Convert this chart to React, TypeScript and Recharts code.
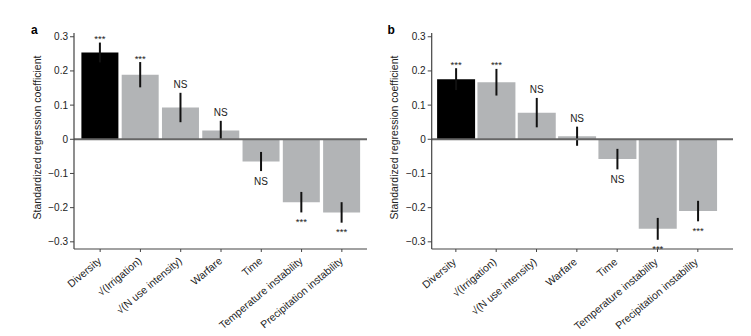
import { Bar, BarChart, Cell, ErrorBar, LabelList, ReferenceLine, XAxis, YAxis } from "recharts";

const FONT = '"Liberation Sans", Arial, sans-serif';

const categories = [
  "Diversity",
  "√(Irrigation)",
  "√(N use intensity)",
  "Warfare",
  "Time",
  "Temperature instability",
  "Precipitation instability",
];

const coefA = [0.254, 0.189, 0.093, 0.026, -0.065, -0.184, -0.214];
const errA = [0.029, 0.037, 0.043, 0.028, 0.028, 0.03, 0.03];
const sigA = ["***", "***", "NS", "NS", "NS", "***", "***"];

const coefB = [0.176, 0.167, 0.078, 0.009, -0.058, -0.262, -0.21];
const errB = [0.032, 0.039, 0.043, 0.028, 0.03, 0.032, 0.03];
const sigB = ["***", "***", "NS", "NS", "NS", "***", "***"];

const yTicks = [-0.3, -0.2, -0.1, 0, 0.1, 0.2, 0.3];

type Row = { name: string; coef: number; err: number; sig: string };

const build = (coef: number[], err: number[], sig: string[]): Row[] =>
  categories.map((name, i) => ({ name, coef: coef[i], err: err[i], sig: sig[i] }));

const fmtTick = (v: number) => (v === 0 ? "0" : v < 0 ? `\u2212${Math.abs(v).toFixed(1)}` : v.toFixed(1));

// significance marks sit just past the end of each error bar
const sigLabel = (rows: Row[]) => (p: any) => {
  const row = rows[p.index];
  if (!row) return null;
  const h = Number(p.height);
  const y = Number(p.y);
  const top = Math.min(y, y + h);
  const bot = Math.max(y, y + h);
  const ppu = (bot - top) / Math.abs(row.coef);
  const ns = row.sig === "NS";
  let ty: number;
  if (row.coef >= 0) {
    const end = bot - (row.coef + row.err) * ppu;
    ty = end - (ns ? 4.5 : 0.5);
  } else {
    const end = top + (Math.abs(row.coef) + row.err) * ppu;
    ty = end + (ns ? 13.5 : 12.5);
  }
  return (
    <text
      x={Number(p.x) + Number(p.width) / 2}
      y={ty}
      textAnchor="middle"
      fontSize={ns ? 10 : 9.5}
      fontFamily={FONT}
      fill="#222"
    >
      {row.sig}
    </text>
  );
};

const xTick = (dx: number, dy: number) => (p: any) => (
  <text
    transform={`translate(${p.x + dx},${p.y + dy}) rotate(-40)`}
    textAnchor="end"
    fontSize={10.5}
    fontFamily={FONT}
    fill="#222"
  >
    {p.payload.value}
  </text>
);

type PanelProps = {
  rows: Row[];
  left: number;
  width: number;
  margin: { top: number; right: number; bottom: number; left: number };
  padding: { left: number; right: number };
  tickDx: number;
  tickDy: number;
};

function Panel({ rows, left, width, margin, padding, tickDx, tickDy }: PanelProps) {
  return (
    <div style={{ position: "absolute", left, top: 0 }}>
      <BarChart width={width} height={336} data={rows} margin={margin} barCategoryGap={1.4}>
        <XAxis
          dataKey="name"
          height={87}
          padding={padding}
          interval={0}
          tickSize={3}
          axisLine={{ stroke: "#444", strokeWidth: 1.2 }}
          tickLine={{ stroke: "#444" }}
          tick={xTick(tickDx, tickDy)}
        />
        <YAxis
          width={40}
          domain={[-0.321, 0.311]}
          ticks={yTicks}
          tickSize={4}
          tickFormatter={fmtTick}
          axisLine={{ stroke: "#444", strokeWidth: 1.2 }}
          tickLine={{ stroke: "#444" }}
          tick={{ fontSize: 10, fill: "#222", fontFamily: FONT }}
          allowDataOverflow
        />
        <Bar dataKey="coef" isAnimationActive={false}>
          {rows.map((r, i) => (
            <Cell key={r.name} fill={i === 0 ? "#000000" : "#b2b4b6"} />
          ))}
          <ErrorBar dataKey="err" width={0} stroke="#111" strokeWidth={2} direction="y" isAnimationActive={false} />
          <LabelList dataKey="sig" content={sigLabel(rows)} />
        </Bar>
        <ReferenceLine y={0} stroke="#666" strokeWidth={2} />
      </BarChart>
    </div>
  );
}

export default function App() {
  const rowsA = build(coefA, errA, sigA);
  const rowsB = build(coefB, errB, sigB);
  const yLabel = "Standardized regression coefficient";
  return (
    <div
      style={{
        position: "absolute",
        left: 0,
        top: 0,
        width: 751,
        height: 336,
        background: "#fff",
        fontFamily: FONT,
      }}
    >
      <Panel
        rows={rowsA}
        left={0}
        width={370}
        margin={{ top: 33, right: 3, bottom: 0, left: 34 }}
        padding={{ left: 6, right: 5 }}
        tickDx={2}
        tickDy={8}
      />
      <Panel
        rows={rowsB}
        left={370}
        width={381}
        margin={{ top: 33, right: 18, bottom: 0, left: 21.7 }}
        padding={{ left: 4, right: 15 }}
        tickDx={1}
        tickDy={9}
      />
      <svg
        width={751}
        height={336}
        style={{ position: "absolute", left: 0, top: 0, pointerEvents: "none" }}
      >
        <text x={31} y={33.5} fontSize={12} fontWeight="bold" fontFamily={FONT} fill="#000">
          a
        </text>
        <text x={387.5} y={33.5} fontSize={12} fontWeight="bold" fontFamily={FONT} fill="#000">
          b
        </text>
        <text
          transform="translate(41,137.5) rotate(-90)"
          textAnchor="middle"
          fontSize={10.5}
          fontFamily={FONT}
          fill="#222"
        >
          {yLabel}
        </text>
        <text
          transform="translate(397.5,137.5) rotate(-90)"
          textAnchor="middle"
          fontSize={10.5}
          fontFamily={FONT}
          fill="#222"
        >
          {yLabel}
        </text>
      </svg>
    </div>
  );
}
